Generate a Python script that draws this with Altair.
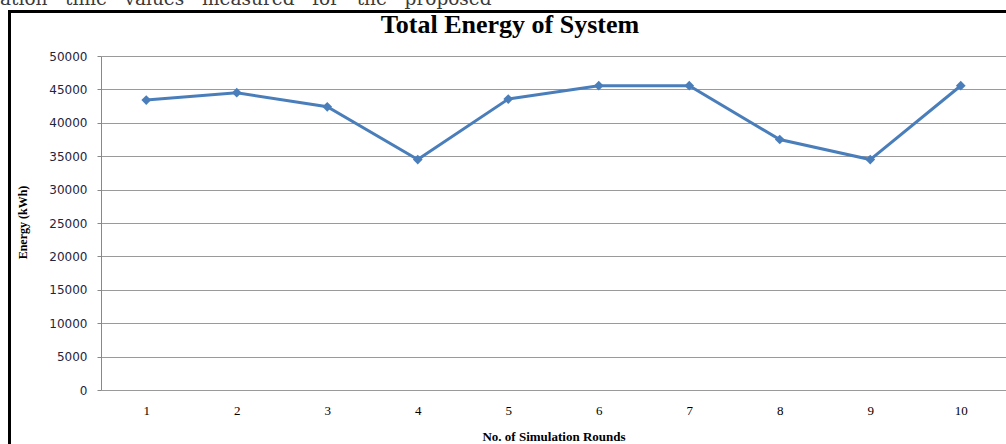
import altair as alt
import pandas as pd

rounds = [1, 2, 3, 4, 5, 6, 7, 8, 9, 10]
energy = [43400, 44500, 42400, 34500, 43550, 45550, 45550, 37500, 34500, 45550]
y_ticks = [0, 5000, 10000, 15000, 20000, 25000, 30000, 35000, 40000, 45000, 50000]

title_text = "Total Energy of System"
caption_text = "ation\u00a0\u00a0\u00a0time\u00a0\u00a0\u00a0values\u00a0\u00a0\u00a0measured\u00a0\u00a0\u00a0for\u00a0\u00a0\u00a0the\u00a0\u00a0\u00a0proposed"

df = pd.DataFrame({"round": rounds, "energy": energy})
one = alt.Data(values=[{"k": 1}])

BLUE = "#4A7EBB"

x_enc = alt.X(
    "round:O",
    sort=rounds,
    axis=alt.Axis(
        title="No. of Simulation Rounds",
        labelAngle=0,
        labelFont="Liberation Serif",
        labelFontSize=13,
        labelColor="#000000",
        labelPadding=14,
        ticks=False,
        domain=False,
        grid=False,
        titleFont="Liberation Serif",
        titleFontSize=13,
        titleFontWeight="bold",
        titleColor="#000000",
        titleY=46,
        titleBaseline="middle",
    ),
)
y_enc = alt.Y(
    "energy:Q",
    scale=alt.Scale(domain=[0, 50000], nice=False),
    axis=alt.Axis(
        values=y_ticks,
        format="d",
        title="Energy (kWh)",
        labelFont="DejaVu Sans",
        labelFontSize=12,
        labelColor="#1F2440",
        labelPadding=10,
        tickSize=4,
        tickColor="#888888",
        domainColor="#888888",
        gridColor="#9a9a9a",
        gridWidth=1,
        titleFont="Liberation Serif",
        titleFontSize=12,
        titleFontWeight="bold",
        titleColor="#000000",
        titleX=-79,
        titleY=166,
        titleAngle=-90,
        titleAlign="center",
        titleBaseline="middle",
    ),
)

line = alt.Chart(df).mark_line(color=BLUE, strokeWidth=3).encode(x=x_enc, y=y_enc)
pts = alt.Chart(df).mark_point(
    shape="diamond", filled=True, size=95, color=BLUE, opacity=1
).encode(x=x_enc, y=y_enc)

frame = alt.Chart(one).mark_rect(
    fill=None, fillOpacity=0, stroke="#000000", strokeWidth=3
).encode(
    x=alt.value(-91.5), x2=alt.value(1000), y=alt.value(-44.5), y2=alt.value(500)
)

title = alt.Chart(one).mark_text(
    text=title_text,
    font="Liberation Serif",
    fontSize=26,
    fontWeight="bold",
    color="#000000",
    align="center",
    baseline="alphabetic",
).encode(x=alt.value(409), y=alt.value(-23))

caption = alt.Chart(one).mark_text(
    text=caption_text,
    font="DejaVu Serif",
    fontSize=18.5,
    color="#3a3a3a",
    align="left",
    baseline="alphabetic",
).encode(x=alt.value(-101), y=alt.value(-51.5))

chart = (
    alt.layer(frame, line, pts, title, caption)
    .properties(
        width=905,
        height=334,
        padding={"left": 101, "top": 56, "right": 0, "bottom": 54},
        autosize=alt.AutoSizeParams(type="none"),
        background="#ffffff",
    )
    .configure_view(stroke=None)
)

chart.save("out.html", embed_options={"renderer": "svg", "actions": False})
